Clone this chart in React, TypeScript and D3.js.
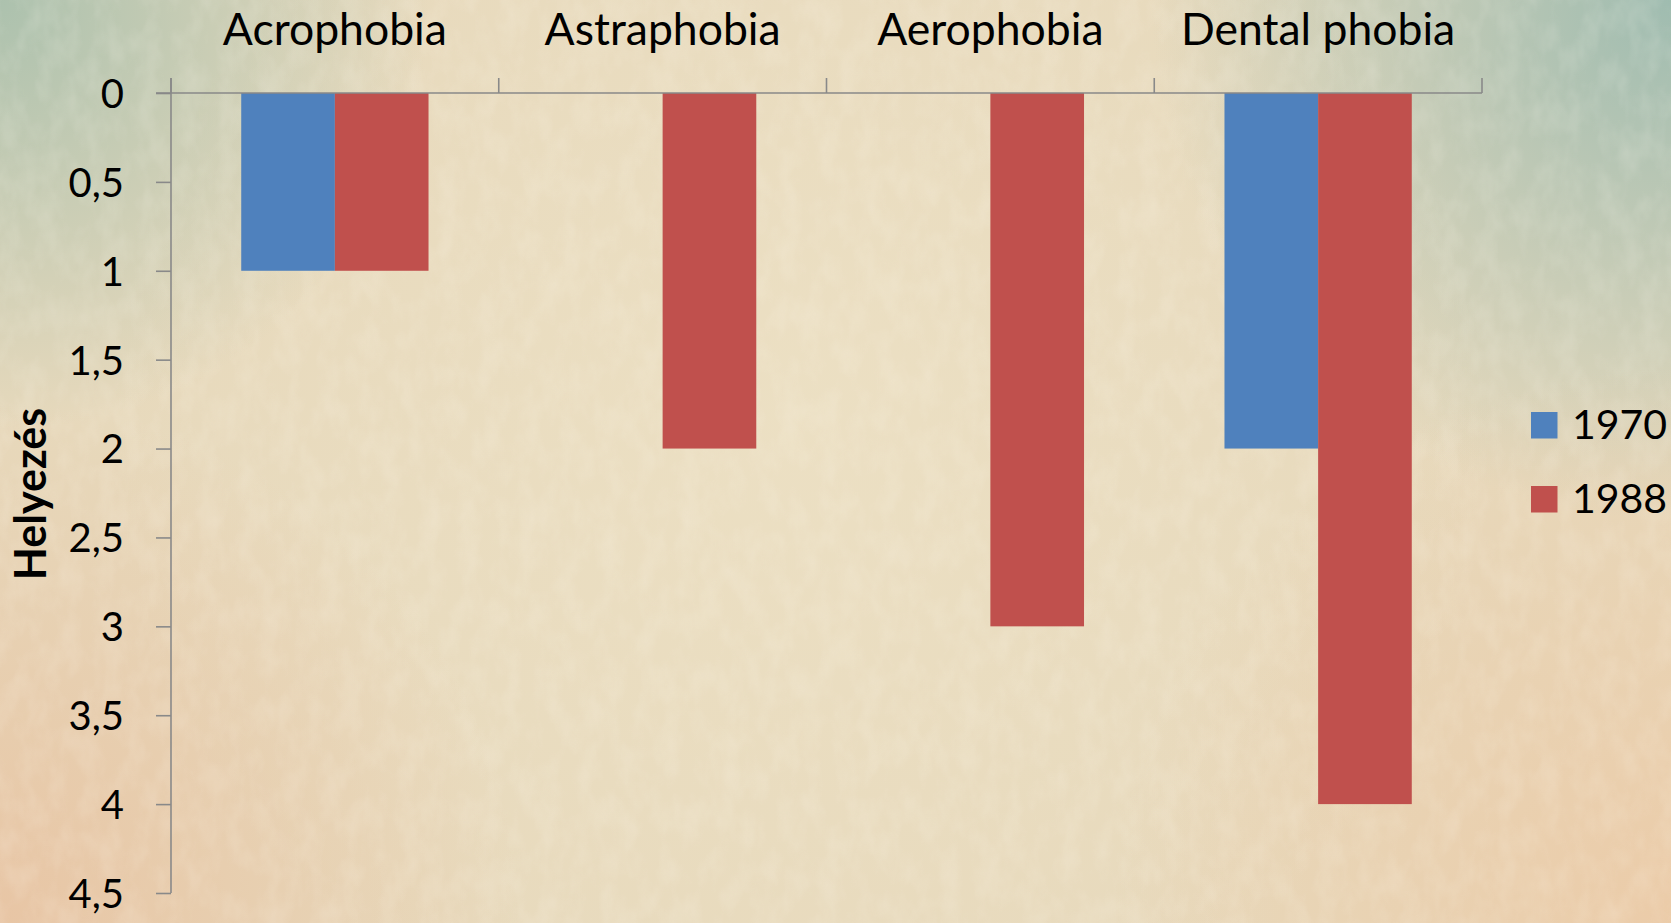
import React, { useEffect, useRef } from "react";
import * as d3 from "d3";

const categories = ["Acrophobia", "Astraphobia", "Aerophobia", "Dental phobia"];
const seriesNames = ["1970", "1988"];
const values1970 = [1, 0, 0, 2];
const values1988 = [1, 2, 3, 4];
const yTicks = [0, 0.5, 1, 1.5, 2, 2.5, 3, 3.5, 4, 4.5];
const yTitle = "Helyezés";
const colors = ["#4f81bd", "#c0504d"];

const W = 1671;
const H = 923;
const FONT = "Lato, 'Open Sans', sans-serif";

export default function App() {
  const ref = useRef<SVGSVGElement | null>(null);

  useEffect(() => {
    const svg = d3.select(ref.current);
    svg.selectAll("*").remove();

    const defs = svg.append("defs");
    const rg = (id: string, cx: number, cy: number, r: number, color: string, op: number) => {
      const g = defs.append("radialGradient").attr("id", id).attr("gradientUnits", "userSpaceOnUse")
        .attr("cx", cx).attr("cy", cy).attr("r", r);
      g.append("stop").attr("offset", "0%").attr("stop-color", color).attr("stop-opacity", op);
      g.append("stop").attr("offset", "45%").attr("stop-color", color).attr("stop-opacity", op * 0.55);
      g.append("stop").attr("offset", "100%").attr("stop-color", color).attr("stop-opacity", 0);
    };
    rg("gTL", 0, 0, 430, "#a9c0ad", 0.95);
    rg("gTR", W, 0, 520, "#9fbcb0", 1);
    rg("gBL", 0, H, 520, "#e8c3a2", 0.9);
    rg("gBR", W, H, 560, "#ecc9a5", 0.85);
    rg("gMid", 800, 420, 700, "#efe4c8", 0.6);

    const filt = defs.append("filter").attr("id", "noise").attr("x", 0).attr("y", 0).attr("width", "100%").attr("height", "100%");
    filt.append("feTurbulence").attr("type", "fractalNoise").attr("baseFrequency", "0.05 0.03").attr("numOctaves", 3).attr("seed", 4).attr("result", "t");
    filt.append("feColorMatrix").attr("in", "t").attr("type", "matrix")
      .attr("values", "0 0 0 0 1  0 0 0 0 0.97  0 0 0 0 0.9  0 0 0 0.5 -0.18");

    svg.append("rect").attr("width", W).attr("height", H).attr("fill", "#e7d9bc");
    ["gMid", "gTL", "gTR", "gBL", "gBR"].forEach((id) =>
      svg.append("rect").attr("width", W).attr("height", H).attr("fill", `url(#${id})`)
    );
    svg.append("rect").attr("width", W).attr("height", H).attr("filter", "url(#noise)").attr("opacity", 0.6);

    const x0 = d3.scaleBand<string>().domain(categories).range([171, 1482]).padding(0);
    const x1 = d3.scaleBand<string>().domain(seriesNames).range([0, x0.bandwidth()]).paddingInner(0).paddingOuter(0.75);
    const y = d3.scaleLinear().domain([0, 4.5]).range([93, 893]);

    const axisColor = "#898989";

    // bars
    const series = [values1970, values1988];
    categories.forEach((c, i) => {
      series.forEach((vals, s) => {
        const v = vals[i];
        if (!v) return;
        svg.append("rect")
          .attr("x", (x0(c) as number) + (x1(seriesNames[s]) as number))
          .attr("y", y(0))
          .attr("width", x1.bandwidth())
          .attr("height", y(v) - y(0))
          .attr("fill", colors[s]);
      });
    });

    // y axis
    const yAxis = d3.axisLeft(y).tickValues(yTicks).tickSize(15).tickPadding(32)
      .tickFormat((d) => String(d).replace(".", ","));
    const gy = svg.append("g").attr("transform", "translate(171,0)").call(yAxis);
    gy.select(".domain").attr("stroke", axisColor).attr("stroke-width", 1.6).attr("d", `M0,${y(4.5)}V${y(0) - 15}`);
    gy.selectAll(".tick line").attr("stroke", axisColor).attr("stroke-width", 1.6);
    gy.selectAll(".tick text").attr("fill", "#000").attr("font-family", FONT).attr("font-size", 40).attr("dy", "0.36em");

    // x axis (top)
    const bounds = [...categories.map((c) => x0(c) as number), 1482];
    svg.append("line").attr("x1", 171 - 15).attr("x2", 1482).attr("y1", y(0)).attr("y2", y(0))
      .attr("stroke", axisColor).attr("stroke-width", 1.6);
    svg.selectAll(".xtick").data(bounds).enter().append("line")
      .attr("x1", (d) => d).attr("x2", (d) => d).attr("y1", y(0)).attr("y2", y(0) - 15)
      .attr("stroke", axisColor).attr("stroke-width", 1.6);
    svg.selectAll(".xlab").data(categories).enter().append("text")
      .attr("x", (d) => (x0(d) as number) + x0.bandwidth() / 2)
      .attr("y", 45)
      .attr("text-anchor", "middle")
      .attr("font-family", FONT).attr("font-size", 44.5).attr("fill", "#000")
      .text((d) => d);

    // y title
    svg.append("text").attr("transform", "translate(46,494) rotate(-90)")
      .attr("text-anchor", "middle").attr("font-family", FONT).attr("font-weight", "bold")
      .attr("font-size", 43).attr("fill", "#000").text(yTitle);

    // legend
    seriesNames.forEach((n, i) => {
      const yy = 412 + i * 74;
      svg.append("rect").attr("x", 1531).attr("y", yy).attr("width", 26.5).attr("height", 26.5).attr("fill", colors[i]);
      svg.append("text").attr("x", 1572).attr("y", yy + 26.5).attr("font-family", FONT).attr("font-size", 41)
        .attr("fill", "#000").text(n);
    });
  }, []);

  return <svg ref={ref} width={W} height={H} style={{ position: "absolute", left: 0, top: 0 }} />;
}
